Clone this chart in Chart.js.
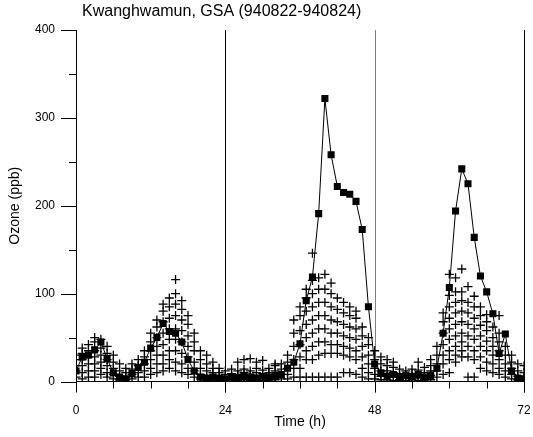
<!DOCTYPE html>
<html><head><meta charset="utf-8">
<script src="https://cdn.jsdelivr.net/npm/chart.js@4.4.1/dist/chart.umd.min.js"></script>
<style>html,body{margin:0;padding:0;background:#fff;}#wrap{width:533px;height:437px;}</style>
</head><body><div id="wrap"><canvas id="c" width="533" height="437"></canvas></div>
<script>
const chartTitle = 'Kwanghwamun, GSA (940822-940824)';
const xTitle = 'Time (h)';
const yTitle = 'Ozone (ppb)';
const xTickLabels = [0, 24, 48, 72];
const yTickLabels = [0, 100, 200, 300, 400];
const dayLines = [24, 48, 72];

// observed hourly ozone (ppb), hours 0..72
const observed = [12, 28, 30, 36, 45, 26, 10, 5, 3, 9, 16, 22, 38, 50, 66, 57, 55, 45, 25, 12,
  5, 4, 5, 4, 3, 5, 4, 6, 5, 4, 6, 5, 7, 8, 15, 22, 43, 92, 119, 191,
  322, 258, 222, 215, 213, 205, 173, 85, 20, 10, 6, 8, 5, 7, 6, 8, 5, 7, 15, 55,
  107, 194, 242, 225, 164, 120, 102, 77, 32, 54, 12, 4, 3];

// modelled ozone (ppb) at each hour 0..72, several grid values per hour
const modelValues = [
  [5, 12, 18, 25, 30], [3, 10, 18, 25, 32, 38], [5, 12, 20, 28, 35, 42], [5, 12, 20, 28, 35, 45, 50],
  [8, 15, 22, 30, 38, 48], [5, 10, 18, 25, 32, 40], [3, 8, 15, 22, 30], [2, 6, 12, 20],
  [2, 5, 10, 15], [3, 8, 14, 20], [5, 10, 18, 25], [5, 12, 20, 28, 35],
  [8, 15, 25, 35, 45, 55], [10, 20, 30, 40, 50, 62, 70], [12, 20, 30, 42, 55, 68, 80, 88], [15, 25, 35, 48, 60, 72, 85, 95],
  [12, 22, 35, 48, 60, 75, 88, 100, 116], [10, 20, 32, 45, 58, 70, 82, 92], [8, 15, 28, 40, 52, 65, 75], [5, 12, 22, 35, 45, 55],
  [3, 8, 15, 25, 35], [2, 6, 12, 20, 30], [2, 5, 10, 15, 22], [2, 5, 10, 15],
  [1, 4, 8, 12], [2, 5, 9, 14], [1, 4, 8, 12, 22], [2, 5, 10, 14, 25],
  [1, 4, 8, 12, 26], [2, 6, 10, 15, 22], [1, 4, 9, 13, 24], [2, 5, 10, 15],
  [2, 6, 12, 18, 20], [3, 8, 14, 20], [3, 8, 15, 22, 30], [5, 15, 25, 40, 55, 70],
  [5, 15, 28, 42, 58, 75, 85], [5, 25, 35, 50, 65, 80, 95, 105], [5, 25, 40, 55, 70, 85, 100, 115, 146], [5, 30, 45, 60, 75, 90, 105, 118],
  [5, 32, 45, 60, 75, 90, 105, 122], [5, 32, 42, 55, 70, 85, 100, 112], [5, 32, 42, 55, 68, 82, 95], [10, 30, 40, 52, 65, 78, 90],
  [10, 28, 38, 50, 62, 75, 85], [8, 25, 35, 48, 60, 72, 80], [5, 15, 28, 40, 52, 62], [3, 10, 20, 30, 42, 50],
  [3, 8, 15, 25, 35], [2, 6, 12, 20, 28], [2, 6, 12, 18, 25], [1, 5, 10, 16, 22],
  [2, 5, 9, 14], [1, 4, 8, 12], [2, 5, 9, 14], [1, 4, 8, 13, 22],
  [2, 6, 10, 16], [2, 7, 12, 18, 25], [5, 12, 20, 30, 40], [8, 20, 30, 42, 55, 68, 78],
  [10, 25, 35, 48, 60, 72, 85, 98, 122], [22, 30, 40, 52, 65, 78, 90, 102, 118], [28, 35, 45, 55, 68, 80, 92, 102, 128], [5, 28, 40, 52, 65, 78, 90, 108],
  [5, 25, 35, 48, 60, 72, 85, 97], [15, 28, 40, 52, 64, 75, 85], [12, 22, 35, 46, 58, 68, 76], [10, 20, 30, 40, 50, 62],
  [8, 15, 25, 35, 45, 55, 75], [5, 12, 20, 30, 40], [3, 8, 15, 22, 30], [2, 6, 12, 20],
  [2, 5, 10, 18]
];

const observedPoints = observed.map((v, h) => ({x: h, y: v}));
const modelPoints = [];
modelValues.forEach((arr, h) => arr.forEach(v => modelPoints.push({x: h, y: v})));

const FONT = "'Liberation Sans', Arial, sans-serif";

const decor = {
  id: 'decor',
  beforeDatasetsDraw(chart) {
    const {ctx, chartArea: ca, scales: {x, y}} = chart;
    ctx.save();
    ctx.lineWidth = 1;
    dayLines.forEach(d => {
      const px = Math.round(x.getPixelForValue(d)) + 0.5;
      ctx.strokeStyle = d === 48 ? '#808080' : '#000';
      ctx.beginPath(); ctx.moveTo(px, ca.top); ctx.lineTo(px, ca.bottom + 11); ctx.stroke();
    });
    ctx.restore();
  },
  afterDraw(chart) {
    const {ctx, chartArea: ca, scales: {x, y}} = chart;
    ctx.save();
    ctx.strokeStyle = '#000';
    ctx.lineWidth = 1;
    for (let h = 0; h <= 72; h += 6) {
      const px = Math.round(x.getPixelForValue(h)) + 0.5;
      const len = (h % 24 === 0) ? 11 : 7;
      ctx.beginPath(); ctx.moveTo(px, ca.bottom); ctx.lineTo(px, ca.bottom + len); ctx.stroke();
    }
    for (let v = 0; v <= 400; v += 50) {
      const py = Math.round(y.getPixelForValue(v)) + 0.5;
      const len = (v % 100 === 0) ? 15 : 7;
      ctx.beginPath(); ctx.moveTo(ca.left, py); ctx.lineTo(ca.left - len, py); ctx.stroke();
    }
    ctx.fillStyle = '#000';
    ctx.font = '16px ' + FONT;
    ctx.textBaseline = 'middle';
    ctx.textAlign = 'left';
    ctx.fillText(chartTitle, 82, 12);
    ctx.restore();
  }
};

new Chart(document.getElementById('c'), {
  type: 'scatter',
  data: {
    datasets: [
      {
        label: 'Observed',
        data: observedPoints,
        showLine: true,
        borderColor: '#000',
        backgroundColor: '#000',
        borderWidth: 1,
        pointStyle: 'rect',
        pointRadius: 5,
        pointBorderWidth: 0,
        tension: 0
      },
      {
        label: 'Model',
        data: modelPoints,
        showLine: false,
        borderColor: '#000',
        backgroundColor: '#000',
        pointStyle: 'cross',
        pointRadius: 4.5,
        pointBorderWidth: 1.3
      }
    ]
  },
  options: {
    responsive: false,
    devicePixelRatio: 1,
    animation: false,
    layout: {padding: {top: 30, right: 9, left: 0, bottom: 0}},
    plugins: {legend: {display: false}, tooltip: {enabled: false}, title: {display: false}},
    scales: {
      x: {
        type: 'linear', min: 0, max: 72,
        afterFit: s => { s.height = 55.5; s.paddingLeft = 0; s.paddingRight = 0; },
        ticks: {
          stepSize: 6, autoSkip: false, maxRotation: 0,
          callback: v => xTickLabels.includes(v) ? String(v) : '',
          font: {family: FONT, size: 12}, color: '#000', padding: 0
        },
        grid: {drawOnChartArea: false, drawTicks: true, tickLength: 22, tickColor: 'rgba(0,0,0,0)', color: 'rgba(0,0,0,0)'},
        border: {display: true, color: '#000', width: 1},
        title: {display: true, text: xTitle, font: {family: FONT, size: 14}, color: '#000', padding: {top: 0, bottom: 6}}
      },
      y: {
        type: 'linear', min: 0, max: 400,
        afterFit: s => { s.width = 76; },
        ticks: {
          stepSize: 50, autoSkip: false,
          callback: v => yTickLabels.includes(v) ? String(v) : '',
          font: {family: FONT, size: 12}, color: '#000', padding: 7
        },
        grid: {drawOnChartArea: false, drawTicks: true, tickLength: 14, tickColor: 'rgba(0,0,0,0)', color: 'rgba(0,0,0,0)'},
        border: {display: true, color: '#000', width: 1},
        title: {display: true, text: yTitle, font: {family: FONT, size: 14}, color: '#000', padding: {top: 7, bottom: 0}}
      }
    }
  },
  plugins: [decor]
});
</script></body></html>
